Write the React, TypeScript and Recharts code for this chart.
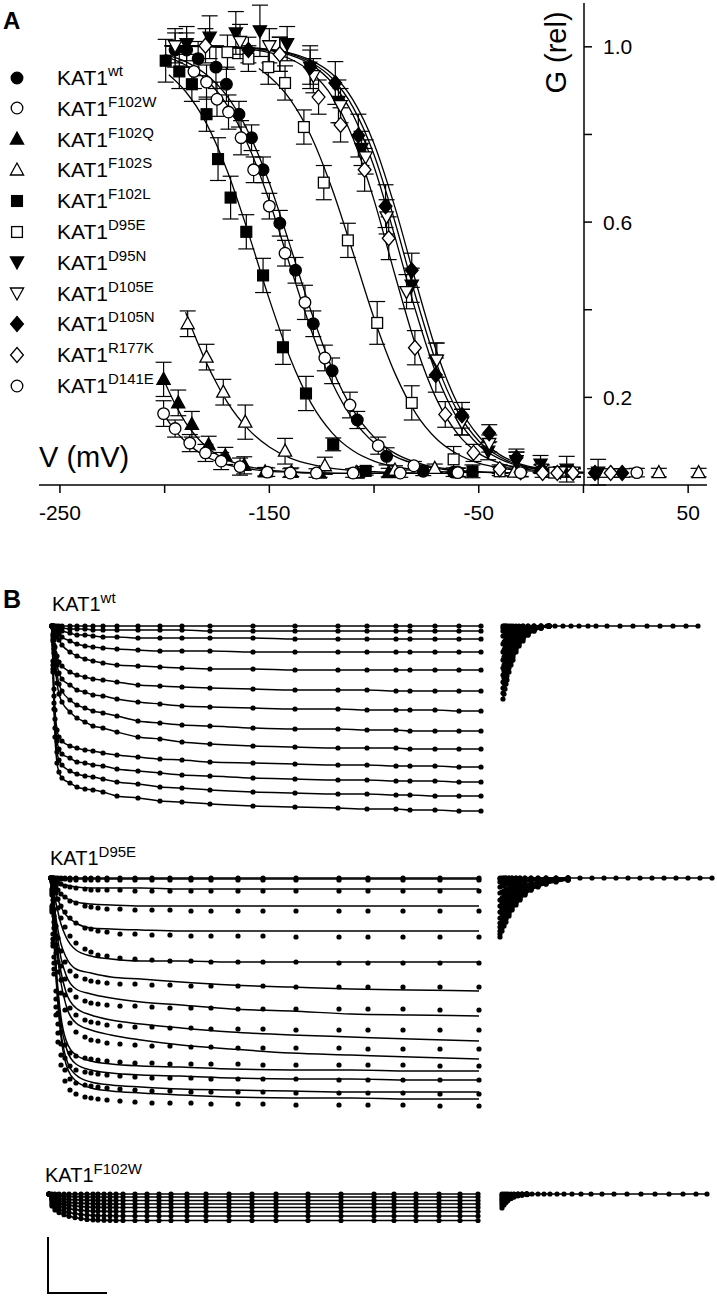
import React from 'react';
import { ComposedChart, ErrorBar, Line, Scatter, XAxis, YAxis } from 'recharts';

const FONT = '"Liberation Sans", Arial, sans-serif';
const INK = '#000';

// ---------- Panel A: relative conductance vs voltage ----------
// [V (mV), G (rel), s.e.m.]
const WT_PTS = [[-195, 0.99, 0.04], [-189.5, 0.99, 0.04], [-184, 0.97, 0.04], [-175.5, 0.95, 0.05], [-170.5, 0.91, 0.04], [-164.5, 0.84, 0.03], [-158.5, 0.785, 0.03], [-153, 0.71, 0.03], [-145, 0.585, 0.03], [-137.5, 0.475, 0.03], [-129, 0.35, 0.03], [-120, 0.24, 0.03], [-108, 0.125, 0.02], [-94, 0.04, 0.02], [-76.5, 0.005, 0.01], [-62, 0.003, 0.01]];
const F102W_PTS = [[-186, 0.94, 0.04], [-180, 0.915, 0.04], [-175, 0.875, 0.04], [-169.5, 0.845, 0.04], [-163.5, 0.785, 0.04], [-157.5, 0.71, 0.03], [-150, 0.625, 0.03], [-142.5, 0.515, 0.03], [-133, 0.4, 0.04], [-123.5, 0.27, 0.03], [-111.5, 0.16, 0.03], [-98, 0.065, 0.02], [-81, 0.018, 0.01], [-60, 0.003, 0.01]];
const F102Q_PTS = [[-200.5, 0.22, 0.04], [-193.5, 0.165, 0.03], [-187, 0.115, 0.03], [-179, 0.067, 0.02], [-171, 0.041, 0.02], [-162, 0.019, 0.02], [-152, 0.004, 0.01], [-139.5, 0.003, 0.01], [-126, 0.001, 0.01], [-108, 0.001, 0.01], [-93, 0.002, 0.01]];
const F102S_PTS = [[-189, 0.35, 0.03], [-180, 0.272, 0.03], [-172, 0.19, 0.03], [-161.5, 0.12, 0.04], [-142.5, 0.052, 0.03], [-123.5, 0.018, 0.02], [-108.5, 0.002, 0.01], [-90, 0.008, 0.01], [-71, 0.012, 0.01], [-33, 0.003, 0.01], [36, 0.002, 0.01], [55, 0.002, 0.01]];
const F102L_PTS = [[-199.5, 0.965, 0.05], [-193, 0.94, 0.04], [-187, 0.91, 0.04], [-180, 0.84, 0.04], [-174.5, 0.735, 0.05], [-168.5, 0.645, 0.05], [-161, 0.565, 0.04], [-153, 0.463, 0.04], [-143.5, 0.295, 0.04], [-132.5, 0.187, 0.04], [-119.5, 0.068, 0.015], [-104, 0.006, 0.01], [-53, 0.005, 0.015]];
const D95E_PTS = [[-170, 0.985, 0.04], [-160, 0.97, 0.03], [-150.5, 0.95, 0.04], [-142.5, 0.913, 0.04], [-133.5, 0.81, 0.04], [-124, 0.68, 0.04], [-112.5, 0.545, 0.04], [-98.5, 0.352, 0.05], [-82, 0.165, 0.04], [-62, 0.033, 0.03], [-40, 0.005, 0.01], [-14, 0.002, 0.01]];
const D95N_PTS = [[-189.5, 1.005, 0.04], [-178.5, 1.02, 0.05], [-166, 1.03, 0.05], [-154.5, 1.035, 0.06], [-141.5, 1.005, 0.04], [-130.5, 0.95, 0.05], [-117, 0.87, 0.05], [-106, 0.76, 0.04], [-82, 0.44, 0.04], [-70.5, 0.265, 0.04], [-58, 0.12, 0.03], [-45.5, 0.052, 0.02], [-32, 0.03, 0.02], [-20.5, 0.022, 0.02], [-8, 0.01, 0.03], [7, 0.003, 0.03]];
const D105E_PTS = [[-195, 1.0, 0.04], [-164, 1.01, 0.04], [-150, 1.0, 0.04], [-129, 0.93, 0.04], [-116, 0.86, 0.04], [-104, 0.74, 0.04], [-94, 0.6, 0.04], [-84.5, 0.425, 0.04], [-70, 0.265, 0.04], [-58, 0.12, 0.03], [-45, 0.07, 0.02], [-32, 0.03, 0.02], [-20, 0.01, 0.01], [-11, 0.004, 0.01], [-5, 0.003, 0.01]];
const D105N_PTS = [[-160, 0.99, 0.03], [-145, 0.98, 0.04], [-130.5, 0.95, 0.04], [-118.5, 0.913, 0.05], [-107.5, 0.79, 0.05], [-94.5, 0.625, 0.05], [-82, 0.475, 0.04], [-70.5, 0.23, 0.04], [-58, 0.136, 0.03], [-45, 0.094, 0.02], [-32, 0.037, 0.02], [-20, 0.01, 0.01], [5.5, 0.001, 0.01], [18.5, 0.001, 0.01]];
const R177K_PTS = [[-180.5, 1.0, 0.04], [-145, 0.98, 0.04], [-126.5, 0.88, 0.04], [-116, 0.815, 0.04], [-104.5, 0.71, 0.05], [-93, 0.55, 0.05], [-80.5, 0.294, 0.04], [-66, 0.138, 0.03], [-52.5, 0.048, 0.02], [-40, 0.01, 0.01], [-30, 0.003, 0.01], [-19.5, 0.001, 0.01], [-12.5, 0.001, 0.01], [-5, 0.001, 0.01], [13, 0.001, 0.01]];
const D141E_PTS = [[-200.5, 0.14, 0.03], [-195, 0.105, 0.02], [-188, 0.071, 0.02], [-180.5, 0.048, 0.02], [-173, 0.029, 0.02], [-164, 0.016, 0.02], [-151, 0.003, 0.01], [-140, 0.001, 0.01], [-127.5, 0.001, 0.01], [-110, 0.001, 0.01], [-87.5, 0.001, 0.01], [-60, 0.002, 0.01], [-30, 0.002, 0.01], [25.5, 0.002, 0.01]];

// fitted Boltzmann curves: [V, G]
const WT_FIT = [[-200, 0.98], [-190, 0.963], [-180, 0.932], [-170, 0.881], [-160, 0.798], [-150, 0.679], [-140, 0.531], [-130, 0.378], [-120, 0.245], [-110, 0.148], [-100, 0.085], [-90, 0.047], [-80, 0.026], [-70, 0.014], [-60, 0.008], [-50, 0.004], [-40, 0.002], [-30, 0.001]];
const F102W_FIT = [[-200, 0.976], [-190, 0.955], [-180, 0.92], [-170, 0.86], [-160, 0.766], [-150, 0.637], [-140, 0.484], [-130, 0.335], [-120, 0.212], [-110, 0.126], [-100, 0.072], [-90, 0.04], [-80, 0.022], [-70, 0.012], [-60, 0.006], [-50, 0.003], [-40, 0.002], [-30, 0.001]];
const F102Q_FIT = [[-201, 0.225], [-195, 0.162], [-190, 0.119], [-185, 0.087], [-180, 0.062], [-170, 0.031], [-160, 0.016], [-150, 0.008], [-140, 0.004], [-130, 0.002], [-120, 0.001], [-100, 0], [-80, 0], [-60, 0]];
const F102S_FIT = [[-190, 0.377], [-185, 0.315], [-180, 0.258], [-175, 0.209], [-170, 0.166], [-160, 0.103], [-150, 0.062], [-140, 0.036], [-130, 0.021], [-120, 0.012], [-110, 0.007], [-100, 0.004], [-90, 0.002], [-80, 0.001], [-60, 0]];
const F102L_FIT = [[-198, 0.932], [-190, 0.893], [-180, 0.818], [-170, 0.706], [-160, 0.562], [-150, 0.407], [-140, 0.269], [-130, 0.164], [-120, 0.095], [-110, 0.053], [-100, 0.029], [-90, 0.016], [-80, 0.009], [-70, 0.005], [-60, 0.003], [-50, 0.001]];
const D95E_FIT = [[-155, 0.947], [-150, 0.928], [-140, 0.874], [-130, 0.788], [-120, 0.665], [-110, 0.516], [-100, 0.363], [-90, 0.234], [-80, 0.14], [-70, 0.08], [-60, 0.045], [-50, 0.024], [-40, 0.013], [-30, 0.007], [-20, 0.004], [-10, 0.002]];
const D95N_FIT = [[-200, 1.0], [-180, 0.999], [-170, 0.998], [-160, 0.995], [-150, 0.99], [-140, 0.981], [-130, 0.961], [-120, 0.924], [-110, 0.856], [-100, 0.745], [-90, 0.588], [-80, 0.412], [-70, 0.255], [-60, 0.144], [-50, 0.076], [-40, 0.039], [-30, 0.019], [-20, 0.01], [-10, 0.005], [0, 0.002]];
const D105E_FIT = [[-200, 1.0], [-180, 0.999], [-170, 0.997], [-160, 0.995], [-150, 0.989], [-140, 0.978], [-130, 0.956], [-120, 0.913], [-110, 0.838], [-100, 0.717], [-90, 0.553], [-80, 0.378], [-70, 0.229], [-60, 0.127], [-50, 0.066], [-40, 0.034], [-30, 0.017], [-20, 0.008], [-10, 0.004], [0, 0.002]];
const D105N_FIT = [[-200, 1.0], [-180, 0.999], [-170, 0.998], [-160, 0.996], [-150, 0.992], [-140, 0.983], [-130, 0.966], [-120, 0.934], [-110, 0.873], [-100, 0.771], [-90, 0.622], [-80, 0.447], [-70, 0.283], [-60, 0.162], [-50, 0.087], [-40, 0.044], [-30, 0.022], [-20, 0.011], [-10, 0.005], [0, 0.003]];
const R177K_FIT = [[-200, 1.0], [-180, 0.998], [-170, 0.996], [-160, 0.992], [-150, 0.984], [-140, 0.969], [-130, 0.938], [-120, 0.881], [-110, 0.783], [-100, 0.639], [-90, 0.464], [-80, 0.298], [-70, 0.172], [-60, 0.092], [-50, 0.047], [-40, 0.024], [-30, 0.012], [-20, 0.006], [-10, 0.003], [0, 0.001]];
const D141E_FIT = [[-201, 0.142], [-195, 0.1], [-190, 0.074], [-185, 0.054], [-180, 0.039], [-170, 0.02], [-160, 0.011], [-150, 0.005], [-140, 0.003], [-130, 0.001], [-110, 0], [-80, 0], [-60, 0]];

const X_TICKS = [-250, -200, -150, -100, -50, 0, 50];
const X_LABELED = [-250, -150, -50, 50];
const Y_TICKS = [0.2, 0.4, 0.6, 0.8, 1.0];
const Y_LABELED = [0.2, 0.6, 1.0];

const SERIES = [
  { name: 'wt', kind: 'circleF', pts: WT_PTS, fit: WT_FIT },
  { name: 'F102W', kind: 'circleO', pts: F102W_PTS, fit: F102W_FIT },
  { name: 'F102Q', kind: 'triUpF', pts: F102Q_PTS, fit: F102Q_FIT },
  { name: 'F102S', kind: 'triUpO', pts: F102S_PTS, fit: F102S_FIT },
  { name: 'F102L', kind: 'squareF', pts: F102L_PTS, fit: F102L_FIT },
  { name: 'D95E', kind: 'squareO', pts: D95E_PTS, fit: D95E_FIT },
  { name: 'D95N', kind: 'triDownF', pts: D95N_PTS, fit: D95N_FIT },
  { name: 'D105E', kind: 'triDownO', pts: D105E_PTS, fit: D105E_FIT },
  { name: 'D105N', kind: 'diamondF', pts: D105N_PTS, fit: D105N_FIT },
  { name: 'R177K', kind: 'diamondO', pts: R177K_PTS, fit: R177K_FIT },
  { name: 'D141E', kind: 'circleO', pts: D141E_PTS, fit: D141E_FIT },
];

// ---------- Panel B: current traces (1 unit = 10 px of the original scale bar) ----------
const WT_T = [0, 5, 10, 15, 25, 35, 50, 90, 125, 165, 205, 255, 325, 430, 540, 650, 790, 1005, 1215, 1430, 1575, 1720, 1790, 1915, 2035, 2145];
const WT_I = [
  [0, 0, 0, 0, 0, 0, 0, 0, 0, 0, 0, 0, 0, 0, 0, 0, 0, 0, 0, 0, 0, 0, 0, 0, 0, 0],
  [0, 0, 0, -0.1, -0.1, -0.2, -0.2, -0.3, -0.3, -0.3, -0.4, -0.4, -0.4, -0.4, -0.4, -0.4, -0.5, -0.5, -0.5, -0.5, -0.5, -0.5, -0.5, -0.5, -0.5, -0.5],
  [0, -0.1, -0.1, -0.2, -0.3, -0.4, -0.5, -0.7, -0.9, -0.9, -1.0, -1.1, -1.1, -1.2, -1.2, -1.2, -1.2, -1.2, -1.3, -1.3, -1.3, -1.3, -1.3, -1.3, -1.3, -1.3],
  [0, -0.1, -0.3, -0.4, -0.6, -0.8, -1.1, -1.5, -1.8, -2.0, -2.1, -2.2, -2.3, -2.4, -2.5, -2.5, -2.5, -2.6, -2.6, -2.6, -2.6, -2.6, -2.6, -2.6, -2.6, -2.6],
  [0, -0.2, -0.4, -0.7, -1.1, -1.4, -1.9, -2.6, -3.0, -3.3, -3.5, -3.7, -3.9, -4.0, -4.1, -4.2, -4.3, -4.3, -4.4, -4.4, -4.4, -4.4, -4.4, -4.4, -4.4, -4.4],
  [0, -0.8, -1.4, -2.1, -3.0, -3.6, -4.0, -4.6, -4.9, -5.1, -5.3, -5.4, -5.6, -5.9, -6.0, -6.1, -6.2, -6.3, -6.4, -6.4, -6.4, -6.5, -6.5, -6.5, -6.5, -6.5],
  [0, -1.0, -1.9, -2.7, -3.9, -4.7, -5.3, -5.9, -6.4, -6.6, -6.9, -7.0, -7.3, -7.6, -7.8, -8.0, -8.1, -8.2, -8.3, -8.3, -8.4, -8.4, -8.4, -8.4, -8.5, -8.5],
  [0, -1.3, -2.3, -3.4, -4.8, -5.8, -6.5, -7.4, -7.9, -8.2, -8.5, -8.7, -9.0, -9.5, -9.7, -9.9, -10.0, -10.2, -10.3, -10.3, -10.4, -10.4, -10.5, -10.5, -10.5, -10.5],
  [0, -1.5, -2.7, -3.9, -5.7, -6.8, -7.6, -8.6, -9.2, -9.6, -10.0, -10.2, -10.6, -11.1, -11.3, -11.6, -11.8, -12.0, -12.1, -12.2, -12.2, -12.2, -12.3, -12.3, -12.3, -12.3],
  [0, -3.5, -6.3, -8.4, -10.4, -11.1, -11.5, -12.0, -12.2, -12.4, -12.5, -12.7, -12.9, -13.1, -13.3, -13.4, -13.6, -13.7, -13.8, -13.9, -13.9, -14.0, -14.0, -14.0, -14.1, -14.1],
  [0, -3.9, -7.0, -9.3, -11.5, -12.3, -12.8, -13.2, -13.6, -13.7, -13.9, -14.0, -14.3, -14.5, -14.7, -14.9, -15.0, -15.2, -15.3, -15.4, -15.4, -15.5, -15.5, -15.5, -15.6, -15.6],
  [0, -4.3, -7.7, -10.2, -12.6, -13.4, -13.9, -14.5, -14.8, -15.0, -15.1, -15.3, -15.6, -15.8, -16.1, -16.2, -16.4, -16.6, -16.7, -16.8, -16.8, -16.9, -16.9, -17.0, -17.0, -17.0],
  [0, -4.6, -8.3, -11.1, -13.7, -14.6, -15.2, -15.7, -16.1, -16.3, -16.4, -16.6, -17.0, -17.2, -17.5, -17.6, -17.8, -18.0, -18.1, -18.2, -18.3, -18.3, -18.4, -18.4, -18.5, -18.5],
];
const WT_TAIL_START = 2255;
const WT_TAIL_T = [0, 5, 10, 15, 20, 30, 40, 50, 65, 80, 100, 125, 155, 190, 230];
const WT_TAIL_I = [
  [0, 0, 0, 0, 0, 0, 0, 0, 0, 0, 0, 0, 0, 0, 0],
  [-0.2, -0.2, -0.2, -0.2, -0.1, -0.1, -0.1, -0.1, -0.1, -0.1, 0, 0, 0, 0, 0],
  [-0.5, -0.5, -0.4, -0.4, -0.4, -0.3, -0.3, -0.2, -0.2, -0.1, -0.1, -0.1, 0, 0, 0],
  [-1.0, -1.0, -0.9, -0.8, -0.8, -0.7, -0.6, -0.5, -0.4, -0.3, -0.2, -0.1, -0.1, 0, 0],
  [-1.8, -1.6, -1.5, -1.4, -1.3, -1.1, -0.9, -0.8, -0.6, -0.5, -0.4, -0.2, -0.1, -0.1, 0],
  [-2.6, -2.4, -2.2, -2.1, -1.9, -1.6, -1.4, -1.2, -0.9, -0.7, -0.5, -0.3, -0.2, -0.1, 0],
  [-3.4, -3.1, -2.9, -2.7, -2.5, -2.1, -1.8, -1.5, -1.2, -0.9, -0.7, -0.4, -0.2, -0.1, 0],
  [-4.2, -3.9, -3.6, -3.3, -3.1, -2.6, -2.2, -1.9, -1.5, -1.2, -0.8, -0.5, -0.3, -0.1, 0],
  [-4.9, -4.5, -4.2, -3.9, -3.6, -3.1, -2.6, -2.2, -1.8, -1.4, -1.0, -0.6, -0.3, -0.1, 0],
  [-5.6, -5.2, -4.8, -4.4, -4.1, -3.5, -3.0, -2.6, -2.0, -1.6, -1.1, -0.7, -0.4, -0.2, 0],
  [-6.2, -5.7, -5.3, -4.9, -4.6, -3.9, -3.3, -2.8, -2.2, -1.7, -1.2, -0.8, -0.4, -0.2, 0],
  [-6.7, -6.2, -5.8, -5.4, -5.0, -4.2, -3.6, -3.1, -2.4, -1.9, -1.3, -0.9, -0.5, -0.2, 0],
  [-7.3, -6.8, -6.3, -5.8, -5.4, -4.6, -3.9, -3.4, -2.6, -2.0, -1.5, -0.9, -0.5, -0.2, 0],
];
const WT_FLAT_T = [220, 260, 300, 340, 380, 425, 465, 520, 585, 650, 720, 785, 850, 915, 975];

const D95E_T = [0, 5, 10, 15, 25, 35, 50, 70, 95, 125, 170, 200, 235, 280, 345, 420, 505, 595, 700, 800, 935, 1060, 1225, 1440, 1585, 1760, 1945, 2140];
const D95E_I = [
  [0, 0, 0, 0, 0, 0, 0, 0, 0, 0, 0, 0, 0, 0, 0, 0, 0, 0, 0, 0, 0, 0, 0, 0, 0, 0, 0, 0],
  [0, 0, 0, 0, -0.1, -0.1, -0.1, -0.1, -0.2, -0.2, -0.2, -0.2, -0.2, -0.2, -0.2, -0.2, -0.2, -0.2, -0.2, -0.2, -0.2, -0.2, -0.2, -0.2, -0.2, -0.2, -0.2, -0.2],
  [0, -0.1, -0.1, -0.2, -0.3, -0.5, -0.6, -0.8, -0.9, -1.0, -1.1, -1.2, -1.2, -1.2, -1.2, -1.3, -1.3, -1.3, -1.3, -1.3, -1.3, -1.3, -1.3, -1.3, -1.3, -1.3, -1.3, -1.3],
  [0, -0.2, -0.3, -0.5, -0.8, -1.2, -1.6, -1.9, -2.3, -2.5, -2.8, -2.9, -3.0, -3.1, -3.1, -3.2, -3.2, -3.2, -3.3, -3.3, -3.3, -3.3, -3.3, -3.3, -3.3, -3.3, -3.3, -3.3],
  [0, -0.3, -0.6, -0.9, -1.5, -2.1, -2.8, -3.4, -4.0, -4.5, -5.0, -5.1, -5.3, -5.4, -5.6, -5.6, -5.7, -5.7, -5.8, -5.8, -5.8, -5.8, -5.9, -5.9, -5.9, -5.9, -5.9, -5.9],
  [0, -0.4, -0.9, -1.3, -2.1, -3.0, -4.0, -4.9, -5.8, -6.5, -7.1, -7.4, -7.7, -7.8, -8.0, -8.1, -8.2, -8.3, -8.3, -8.4, -8.4, -8.4, -8.4, -8.5, -8.5, -8.5, -8.5, -8.5],
  [0, -1.1, -2.2, -3.2, -4.8, -6.0, -7.3, -8.4, -9.3, -9.8, -10.1, -10.3, -10.4, -10.5, -10.6, -10.6, -10.7, -10.7, -10.8, -10.8, -10.8, -10.8, -10.9, -10.9, -10.9, -10.9, -10.9, -10.9],
  [0, -1.3, -2.6, -3.8, -5.8, -7.2, -8.8, -10.1, -11.2, -11.9, -12.3, -12.5, -12.6, -12.7, -12.8, -12.8, -12.9, -13.0, -13.0, -13.0, -13.1, -13.1, -13.1, -13.1, -13.1, -13.1, -13.2, -13.2],
  [0, -1.5, -3.0, -4.4, -6.7, -8.4, -10.2, -11.7, -13.0, -13.7, -14.2, -14.4, -14.5, -14.7, -14.8, -14.9, -14.9, -15.0, -15.0, -15.1, -15.1, -15.1, -15.2, -15.2, -15.2, -15.2, -15.2, -15.2],
  [0, -1.7, -3.4, -5.0, -7.5, -9.4, -11.5, -13.2, -14.5, -15.4, -15.9, -16.2, -16.3, -16.5, -16.6, -16.7, -16.8, -16.8, -16.9, -16.9, -17.0, -17.0, -17.0, -17.0, -17.1, -17.1, -17.1, -17.1],
  [0, -2.8, -5.6, -7.9, -11.3, -13.5, -15.4, -16.7, -17.5, -17.8, -18.0, -18.1, -18.2, -18.3, -18.4, -18.5, -18.5, -18.6, -18.6, -18.6, -18.6, -18.7, -18.7, -18.7, -18.7, -18.7, -18.8, -18.8],
  [0, -3.0, -6.1, -8.5, -12.1, -14.6, -16.6, -18.0, -18.8, -19.2, -19.4, -19.5, -19.6, -19.7, -19.8, -19.9, -20.0, -20.0, -20.0, -20.1, -20.1, -20.1, -20.1, -20.2, -20.2, -20.2, -20.2, -20.2],
  [0, -3.2, -6.5, -9.1, -12.9, -15.5, -17.7, -19.2, -20.1, -20.5, -20.7, -20.8, -20.9, -21.0, -21.1, -21.2, -21.3, -21.3, -21.4, -21.4, -21.4, -21.4, -21.5, -21.5, -21.5, -21.5, -21.6, -21.6],
  [0, -3.4, -6.8, -9.6, -13.7, -16.4, -18.7, -20.3, -21.2, -21.6, -21.9, -22.0, -22.1, -22.2, -22.3, -22.4, -22.5, -22.5, -22.5, -22.6, -22.6, -22.6, -22.7, -22.7, -22.7, -22.7, -22.8, -22.8],
];
const D95E_FIT_T = [0, 10, 25, 50, 75, 125, 200, 300, 450, 650, 900, 1200, 1500, 1800, 2140];
const D95E_FIT_I = [
  [0, 0, 0, 0, 0, 0, 0, 0, 0, 0, 0, 0, 0, 0, 0],
  [0, 0, 0, -0.1, -0.1, -0.1, -0.1, -0.1, -0.1, -0.1, -0.1, -0.1, -0.1, -0.1, -0.1],
  [0, -0.1, -0.3, -0.6, -0.7, -0.9, -1.0, -1.0, -1.0, -1.1, -1.1, -1.1, -1.1, -1.1, -1.1],
  [0, -0.3, -0.8, -1.6, -2.0, -2.4, -2.6, -2.7, -2.8, -2.8, -2.8, -2.8, -2.8, -2.8, -2.8],
  [0, -0.6, -1.6, -2.9, -3.7, -4.5, -5.0, -5.1, -5.2, -5.3, -5.3, -5.3, -5.3, -5.3, -5.3],
  [0, -1.0, -2.5, -4.6, -5.9, -7.2, -7.8, -8.1, -8.3, -8.3, -8.4, -8.4, -8.4, -8.4, -8.4],
  [0, -1.7, -4.0, -6.6, -7.9, -9.1, -9.5, -9.9, -10.1, -10.4, -10.7, -10.9, -11.1, -11.2, -11.3],
  [0, -2.1, -4.8, -8.0, -9.7, -11.1, -11.6, -12.0, -12.4, -12.7, -13.1, -13.3, -13.6, -13.7, -13.8],
  [0, -2.4, -5.7, -9.4, -11.4, -13.0, -13.7, -14.2, -14.6, -15.0, -15.4, -15.7, -15.9, -16.1, -16.3],
  [0, -2.7, -6.3, -10.5, -12.7, -14.5, -15.2, -15.7, -16.2, -16.7, -17.1, -17.5, -17.7, -17.9, -18.1],
  [0, -3.9, -8.7, -13.9, -16.2, -17.7, -18.3, -18.6, -18.8, -18.9, -19.1, -19.2, -19.2, -19.3, -19.3],
  [0, -4.0, -9.1, -14.5, -16.9, -18.6, -19.2, -19.5, -19.7, -19.8, -20.0, -20.1, -20.1, -20.2, -20.2],
  [0, -4.3, -9.6, -15.4, -18.0, -19.7, -20.4, -20.7, -20.9, -21.1, -21.2, -21.3, -21.4, -21.4, -21.4],
  [0, -4.4, -9.9, -15.9, -18.6, -20.3, -21.0, -21.3, -21.5, -21.7, -21.9, -22.0, -22.0, -22.1, -22.1],
];
const D95E_TAIL_START = 2245;
const D95E_TAIL_T = [0, 10, 20, 30, 45, 60, 80, 100, 125, 155, 190, 230, 280, 340];
const D95E_TAIL_I = [
  [0, 0, 0, 0, 0, 0, 0, 0, 0, 0, 0, 0, 0, 0],
  [-0.1, -0.1, 0, 0, 0, 0, 0, 0, 0, 0, 0, 0, 0, 0],
  [-0.4, -0.3, -0.3, -0.3, -0.2, -0.2, -0.2, -0.1, -0.1, -0.1, -0.1, 0, 0, 0],
  [-0.9, -0.8, -0.7, -0.6, -0.6, -0.5, -0.4, -0.3, -0.3, -0.2, -0.1, -0.1, -0.1, 0],
  [-1.5, -1.4, -1.3, -1.1, -1.0, -0.8, -0.7, -0.6, -0.4, -0.3, -0.2, -0.2, -0.1, 0],
  [-2.2, -2.0, -1.8, -1.6, -1.4, -1.2, -1.0, -0.8, -0.6, -0.5, -0.3, -0.2, -0.1, -0.1],
  [-2.8, -2.5, -2.3, -2.1, -1.8, -1.6, -1.3, -1.0, -0.8, -0.6, -0.4, -0.3, -0.2, -0.1],
  [-3.4, -3.1, -2.8, -2.5, -2.2, -1.9, -1.5, -1.3, -1.0, -0.7, -0.5, -0.3, -0.2, -0.1],
  [-4.0, -3.6, -3.2, -2.9, -2.5, -2.2, -1.8, -1.5, -1.1, -0.8, -0.6, -0.4, -0.2, -0.1],
  [-4.5, -4.0, -3.6, -3.3, -2.8, -2.4, -2.0, -1.6, -1.3, -0.9, -0.7, -0.4, -0.3, -0.1],
  [-4.9, -4.4, -4.0, -3.6, -3.1, -2.7, -2.2, -1.8, -1.4, -1.0, -0.7, -0.5, -0.3, -0.1],
  [-5.3, -4.7, -4.3, -3.9, -3.4, -2.9, -2.4, -1.9, -1.5, -1.1, -0.8, -0.5, -0.3, -0.2],
  [-5.6, -5.0, -4.6, -4.1, -3.6, -3.1, -2.5, -2.1, -1.6, -1.2, -0.8, -0.6, -0.3, -0.2],
  [-5.9, -5.3, -4.8, -4.4, -3.8, -3.2, -2.7, -2.2, -1.7, -1.2, -0.9, -0.6, -0.4, -0.2],
];
const D95E_FLAT_T = [340, 400, 460, 520, 580, 640, 700, 760, 820, 880, 940, 1000, 1060];

const F102W_T = [0, 15, 30, 50, 75, 100, 130, 160, 190, 220, 245, 275, 305, 335, 370, 430, 490, 550, 610, 690, 785, 900, 1015, 1135, 1295, 1460, 1625, 1725, 1835, 1950, 2055, 2145];
const F102W_I = [
  [0, 0, 0, 0, 0, 0, 0, 0, 0, 0, 0, 0, 0, 0, 0, 0, 0, 0, 0, 0, 0, 0, 0, 0, 0, 0, 0, 0, 0, 0, 0, 0],
  [0, -0.14, -0.18, -0.21, -0.23, -0.25, -0.27, -0.28, -0.29, -0.29, -0.3, -0.3, -0.3, -0.3, -0.3, -0.3, -0.3, -0.3, -0.3, -0.3, -0.3, -0.3, -0.3, -0.3, -0.3, -0.3, -0.3, -0.3, -0.3, -0.3, -0.3, -0.3],
  [0, -0.29, -0.39, -0.46, -0.51, -0.55, -0.58, -0.6, -0.62, -0.63, -0.64, -0.64, -0.65, -0.65, -0.65, -0.65, -0.65, -0.65, -0.65, -0.65, -0.65, -0.65, -0.65, -0.65, -0.65, -0.65, -0.65, -0.65, -0.65, -0.65, -0.65, -0.65],
  [0, -0.45, -0.6, -0.7, -0.78, -0.84, -0.89, -0.93, -0.96, -0.98, -0.99, -0.99, -0.99, -1.0, -1.0, -1.0, -1.0, -1.0, -1.0, -1.0, -1.0, -1.0, -1.0, -1.0, -1.0, -1.0, -1.0, -1.0, -1.0, -1.0, -1.0, -1.0],
  [0, -0.61, -0.81, -0.95, -1.05, -1.13, -1.2, -1.26, -1.3, -1.32, -1.33, -1.34, -1.34, -1.34, -1.35, -1.35, -1.35, -1.35, -1.35, -1.35, -1.35, -1.35, -1.35, -1.35, -1.35, -1.35, -1.35, -1.35, -1.35, -1.35, -1.35, -1.35],
  [0, -0.79, -1.05, -1.23, -1.37, -1.47, -1.56, -1.63, -1.68, -1.71, -1.72, -1.73, -1.74, -1.74, -1.74, -1.75, -1.75, -1.75, -1.75, -1.75, -1.75, -1.75, -1.75, -1.75, -1.75, -1.75, -1.75, -1.75, -1.75, -1.75, -1.75, -1.75],
  [0, -0.99, -1.32, -1.54, -1.72, -1.85, -1.96, -2.05, -2.11, -2.15, -2.17, -2.18, -2.18, -2.19, -2.19, -2.2, -2.2, -2.2, -2.2, -2.2, -2.2, -2.2, -2.2, -2.2, -2.2, -2.2, -2.2, -2.2, -2.2, -2.2, -2.2, -2.2],
  [0, -1.19, -1.59, -1.86, -2.07, -2.23, -2.36, -2.46, -2.54, -2.58, -2.61, -2.62, -2.63, -2.64, -2.64, -2.65, -2.65, -2.65, -2.65, -2.65, -2.65, -2.65, -2.65, -2.65, -2.65, -2.65, -2.65, -2.65, -2.65, -2.65, -2.65, -2.65],
];
const F102W_TAIL_START = 2265;
const F102W_TAIL_T = [0, 10, 20, 30, 45, 60, 80, 100, 125];
const F102W_TAIL_I = [
  [0, 0, 0, 0, 0, 0, 0, 0, 0],
  [-0.16, -0.12, -0.1, -0.08, -0.05, -0.04, -0.02, -0.01, 0],
  [-0.34, -0.27, -0.2, -0.16, -0.11, -0.07, -0.04, -0.03, -0.01],
  [-0.53, -0.41, -0.32, -0.25, -0.17, -0.12, -0.07, -0.04, -0.02],
  [-0.71, -0.55, -0.43, -0.33, -0.23, -0.16, -0.09, -0.06, -0.03],
  [-0.92, -0.72, -0.55, -0.43, -0.29, -0.2, -0.12, -0.07, -0.04],
  [-1.16, -0.9, -0.7, -0.55, -0.37, -0.26, -0.15, -0.09, -0.05],
  [-1.4, -1.09, -0.84, -0.66, -0.45, -0.31, -0.18, -0.11, -0.06],
];
const F102W_FLAT_T = [120, 150, 180, 210, 240, 275, 310, 350, 395, 445, 500, 560, 625, 695, 765, 835, 905, 970, 1025];

// ---------- helpers ----------
const toPts = (rows: number[][]) => rows.map(([v, g, e]) => ({ v, g, e }));
const toFit = (rows: number[][]) => rows.map(([v, g]) => ({ v, g }));
const toTrace = (times: number[], vals: number[], offset = 0) =>
  times.map((t, j) => ({ t: t + offset, i: vals[j] }));

function Marker({ kind, cx, cy }: { kind: string; cx: number; cy: number }) {
  const filled = kind.endsWith('F');
  const fill = filled ? INK : '#fff';
  const common = { fill, stroke: INK, strokeWidth: 1.3 };
  if (kind.startsWith('circle')) return <circle cx={cx} cy={cy} r={5.8} {...common} />;
  if (kind.startsWith('square')) return <rect x={cx - 5.4} y={cy - 5.4} width={10.8} height={10.8} {...common} />;
  if (kind.startsWith('triUp'))
    return <polygon points={`${cx},${cy - 7} ${cx - 6.6},${cy + 5} ${cx + 6.6},${cy + 5}`} {...common} />;
  if (kind.startsWith('triDown'))
    return <polygon points={`${cx},${cy + 7} ${cx - 6.6},${cy - 5} ${cx + 6.6},${cy - 5}`} {...common} />;
  return <polygon points={`${cx},${cy - 7.5} ${cx + 6.4},${cy} ${cx},${cy + 7.5} ${cx - 6.4},${cy}`} {...common} />;
}

const dotShape = (p: any) => <circle cx={p.cx} cy={p.cy} r={2.6} fill={INK} />;
const traceDot = { r: 2.6, fill: INK, stroke: 'none' };

function PanelA() {
  const tickStyle = { fontSize: 21, fill: INK, fontFamily: FONT };
  return (
    <>
      <div style={{ position: 'absolute', left: 0, top: 0 }}>
        <ComposedChart width={717} height={545} margin={{ top: 3, right: 10, bottom: 30, left: 39 }}>
          <XAxis
            dataKey="v"
            type="number"
            domain={[-260, 59]}
            ticks={X_TICKS}
            interval={0}
            allowDataOverflow
            height={30}
            tickSize={8}
            tickMargin={12}
            tick={tickStyle}
            stroke={INK}
            strokeWidth={1.5}
            tickFormatter={(v: number) => (X_LABELED.includes(v) ? String(v) : '')}
          />
          <YAxis dataKey="g" type="number" domain={[0, 1.1]} hide />
          {SERIES.map((s) => (
            <Line
              key={`fit-${s.name}`}
              data={toFit(s.fit)}
              dataKey="g"
              type="monotone"
              stroke={INK}
              strokeWidth={1.3}
              dot={false}
              activeDot={false}
              isAnimationActive={false}
            />
          ))}
          {SERIES.map((s) => (
            <Scatter
              key={`pts-${s.name}`}
              data={toPts(s.pts)}
              dataKey="g"
              isAnimationActive={false}
              shape={(p: any) => <Marker kind={s.kind} cx={p.cx} cy={p.cy} />}
            >
              <ErrorBar dataKey="e" direction="y" width={8} stroke={INK} strokeWidth={1.2} />
            </Scatter>
          ))}
        </ComposedChart>
      </div>
      {/* y axis sits at V = 0 mV, so it is drawn by a second chart whose right edge lands there */}
      <div style={{ position: 'absolute', left: 0, top: 0, pointerEvents: 'none' }}>
        <ComposedChart
          width={654}
          height={545}
          data={[{ v: -260, g: 0 }, { v: 0, g: 1.1 }]}
          margin={{ top: 3, right: 0, bottom: 60, left: 0 }}
        >
          <XAxis dataKey="v" type="number" domain={[-260, 0]} hide />
          <YAxis
            dataKey="g"
            type="number"
            orientation="right"
            domain={[0, 1.1]}
            ticks={Y_TICKS}
            interval={0}
            width={70}
            tickSize={8}
            tickMargin={11}
            tick={{ ...tickStyle, textAnchor: 'start' }}
            stroke={INK}
            strokeWidth={1.5}
            tickFormatter={(v: number) => (Y_LABELED.includes(v) ? v.toFixed(1) : '')}
          />
          <Line dataKey="g" stroke="none" dot={false} activeDot={false} isAnimationActive={false} />
        </ComposedChart>
      </div>
      <div style={{ position: 'absolute', left: 39, top: 443, fontSize: 29, lineHeight: '29px', whiteSpace: 'nowrap' }}>
        V (mV)
      </div>
      <div
        style={{
          position: 'absolute',
          left: 501,
          top: 38,
          width: 110,
          textAlign: 'center',
          fontSize: 29,
          lineHeight: '29px',
          transform: 'rotate(-90deg)',
          whiteSpace: 'nowrap',
        }}
      >
        G (rel)
      </div>
      {SERIES.map((s, k) => {
        const cy = 77.5 + 30.8 * k;
        return (
          <React.Fragment key={`leg-${s.name}`}>
            <svg style={{ position: 'absolute', left: 8, top: cy - 9 }} width={18} height={18}>
              <Marker kind={s.kind} cx={9} cy={9} />
            </svg>
            <div style={{ position: 'absolute', left: 57, top: cy - 10.5, fontSize: 21, lineHeight: '21px', whiteSpace: 'nowrap' }}>
              KAT1
              <span style={{ fontSize: 15, position: 'relative', top: -9 }}>{s.name}</span>
            </div>
          </React.Fragment>
        );
      })}
    </>
  );
}

function TraceGroup(props: {
  top: number;
  height: number;
  left: number;
  right: number;
  xDomain: [number, number];
  yDomain: [number, number];
  times: number[];
  traces: number[][];
  fitTimes?: number[];
  fits?: number[][];
  tailStart: number;
  tailTimes: number[];
  tails: number[][];
  flatTimes: number[];
}) {
  const { times, traces, fitTimes, fits, tailStart, tailTimes, tails, flatTimes } = props;
  const withFits = !!fits && !!fitTimes;
  return (
    <div style={{ position: 'absolute', left: 0, top: props.top }}>
      <ComposedChart width={717} height={props.height} margin={{ top: 10, right: props.right, bottom: 0, left: props.left }}>
        <XAxis dataKey="t" type="number" domain={props.xDomain} hide />
        <YAxis dataKey="i" type="number" domain={props.yDomain} hide />
        {withFits &&
          fits!.map((vals, k) => (
            <Line
              key={`fit-${k}`}
              data={toTrace(fitTimes!, vals)}
              dataKey="i"
              type="monotone"
              stroke={INK}
              strokeWidth={1.5}
              dot={false}
              activeDot={false}
              isAnimationActive={false}
            />
          ))}
        {traces.map((vals, k) =>
          withFits ? (
            <Scatter key={`tr-${k}`} data={toTrace(times, vals)} dataKey="i" shape={dotShape} isAnimationActive={false} />
          ) : (
            <Line
              key={`tr-${k}`}
              data={toTrace(times, vals)}
              dataKey="i"
              type="monotone"
              stroke={INK}
              strokeWidth={1.5}
              dot={traceDot}
              activeDot={false}
              isAnimationActive={false}
            />
          )
        )}
        {tails.map((vals, k) => (
          <Line
            key={`tail-${k}`}
            data={toTrace(tailTimes, vals, tailStart)}
            dataKey="i"
            type="monotone"
            stroke={INK}
            strokeWidth={1.5}
            dot={traceDot}
            activeDot={false}
            isAnimationActive={false}
          />
        ))}
        <Line
          data={flatTimes.map((t) => ({ t: t + tailStart, i: 0 }))}
          dataKey="i"
          stroke={INK}
          strokeWidth={1.5}
          dot={traceDot}
          activeDot={false}
          isAnimationActive={false}
        />
      </ComposedChart>
    </div>
  );
}

function TraceLabel({ left, top, sup }: { left: number; top: number; sup: string }) {
  return (
    <div style={{ position: 'absolute', left, top, fontSize: 20, lineHeight: '20px', whiteSpace: 'nowrap' }}>
      KAT1
      <span style={{ fontSize: 15, position: 'relative', top: -8 }}>{sup}</span>
    </div>
  );
}

export default function App() {
  return (
    <div
      style={{
        position: 'absolute',
        left: 0,
        top: 0,
        width: 717,
        height: 1297,
        background: '#fff',
        fontFamily: FONT,
        color: INK,
        overflow: 'hidden',
      }}
    >
      <div style={{ position: 'absolute', left: 3, top: 9, fontSize: 24, fontWeight: 700, lineHeight: '24px' }}>A</div>
      <PanelA />

      <div style={{ position: 'absolute', left: 3, top: 587, fontSize: 25, fontWeight: 700, lineHeight: '25px' }}>B</div>
      <TraceLabel left={52} top={594} sup="wt" />
      <TraceGroup
        top={611}
        height={210}
        left={52}
        right={15}
        xDomain={[0, 3250]}
        yDomain={[-19.5, 0.5]}
        times={WT_T}
        traces={WT_I}
        tailStart={WT_TAIL_START}
        tailTimes={WT_TAIL_T}
        tails={WT_TAIL_I}
        flatTimes={WT_FLAT_T}
      />

      <TraceLabel left={50} top={848} sup="D95E" />
      <TraceGroup
        top={863}
        height={250}
        left={51}
        right={2}
        xDomain={[0, 3320]}
        yDomain={[-23.5, 0.5]}
        times={D95E_T}
        traces={D95E_I}
        fitTimes={D95E_FIT_T}
        fits={D95E_FIT_I}
        tailStart={D95E_TAIL_START}
        tailTimes={D95E_TAIL_T}
        tails={D95E_TAIL_I}
        flatTimes={D95E_FLAT_T}
      />

      <TraceLabel left={45} top={1165} sup="F102W" />
      <TraceGroup
        top={1179}
        height={117}
        left={47}
        right={8}
        xDomain={[-10, 3300]}
        yDomain={[-10.2, 0.5]}
        times={F102W_T}
        traces={F102W_I}
        tailStart={F102W_TAIL_START}
        tailTimes={F102W_TAIL_T}
        tails={F102W_TAIL_I}
        flatTimes={F102W_FLAT_T}
      />
      {/* scale bar */}
      <div style={{ position: 'absolute', left: 47, top: 1237, width: 2, height: 57, background: INK }} />
      <div style={{ position: 'absolute', left: 47, top: 1292, width: 60, height: 2, background: INK }} />
    </div>
  );
}
